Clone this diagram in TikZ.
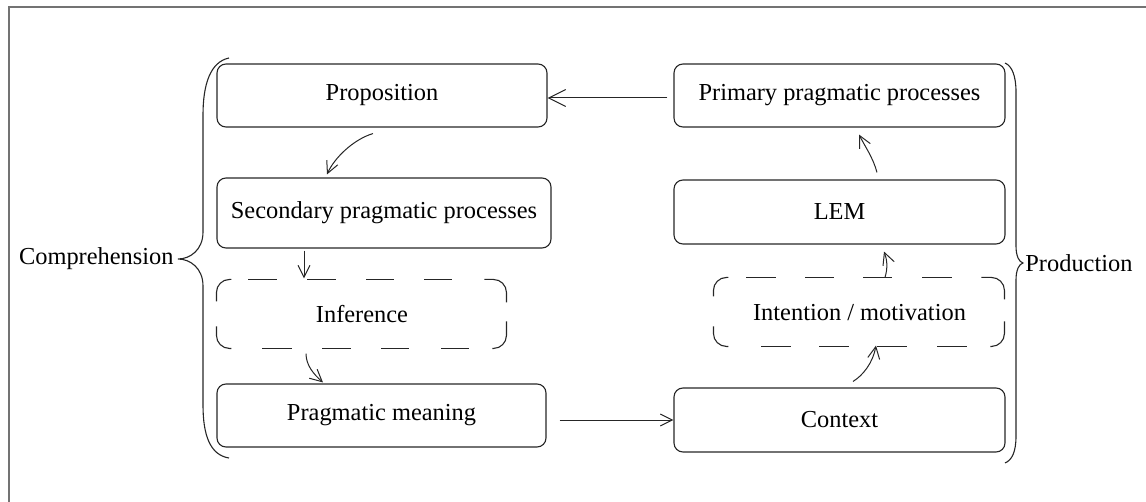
\documentclass[tikz,border=0pt]{standalone}
\usepackage{fontspec}
\setmainfont{Liberation Serif}
\usetikzlibrary{arrows.meta,calc}

\tikzset{
  box/.style={draw=black!85, line width=0.55pt, rounded corners=4.5pt,
    inner sep=0pt, align=center, font=\fontsize{12.2pt}{14pt}\selectfont},
  openbox/.style={box, draw=none},
  outline/.style={draw=black!85, line width=0.55pt, rounded corners=6.5pt},
  arr/.style={draw=black!85, line width=0.5pt,
    -{Straight Barb[length=6pt,width=6pt,line width=0.5pt]}},
  bigarr/.style={draw=black!85, line width=0.5pt,
    -{Straight Barb[length=8.5pt,width=8.5pt,line width=0.5pt]}},
  brace/.style={draw=black!85, line width=0.55pt},
  side/.style={inner sep=0pt, font=\fontsize{12.2pt}{14pt}\selectfont},
}

\begin{document}
\begin{tikzpicture}[x=0.5pt,y=-0.5pt]
  \useasboundingbox (0,0) rectangle (1146,502);

  % outer frame
  \draw[black!55, line width=1pt] (8.5,502) -- (8.5,7) -- (1146,7);

  % comprehension column
  \node[box, minimum width=165pt, minimum height=31.5pt] (prop) at (382,95.5) {Proposition};
  \node[box, minimum width=167pt, minimum height=35pt]   (sec)  at (384,213) {Secondary pragmatic processes};
  \node[openbox, minimum width=145pt, minimum height=34.5pt] (inf) at (362,314.5) {Inference};
  \node[box, minimum width=164.5pt, minimum height=31.5pt] (prag) at (381.5,415.5) {Pragmatic meaning};

  % production column
  \node[box, minimum width=165.5pt, minimum height=31.5pt] (prim) at (839.5,95.5) {Primary pragmatic processes};
  \node[box, minimum width=165.5pt, minimum height=32pt]   (lem)  at (839.5,212) {LEM};
  \node[openbox, minimum width=145.5pt, minimum height=34.5pt] (int) at (859.5,312.5) {Intention / motivation};
  \node[box, minimum width=165.5pt, minimum height=32pt]   (ctx)  at (839.5,420) {Context};

  % broken outline of the Inference box: solid corners, dashed sides
  \begin{scope}[shift={(inf.north west)}]
    \draw[outline] (0,22) -- (0,0) -- (15,0);
    \draw[outline] (268,0) -- (290,0) -- (290,23);
    \draw[outline] (290,42) -- (290,69) -- (276,69);
    \draw[outline] (15,69) -- (0,69) -- (0,47);
    \foreach \a/\b in {32/61, 91/120, 150/178, 208/236}
      \draw[outline] (\a,0) -- (\b,0);
    \foreach \a/\b in {46/76, 106/135, 165/193, 225/253}
      \draw[outline] (\a,69) -- (\b,69);
  \end{scope}

  % broken outline of the Intention / motivation box
  \begin{scope}[shift={(int.north west)}]
    \draw[outline] (0,19) -- (0,0) -- (15,0);
    \draw[outline] (268,0) -- (291,0) -- (291,22);
    \draw[outline] (291,44) -- (291,69) -- (277,69);
    \draw[outline] (15,69) -- (0,69) -- (0,49);
    \foreach \a/\b in {33/63, 92/121, 150/179, 209/239}
      \draw[outline] (\a,0) -- (\b,0);
    \foreach \a/\b in {48/78, 106/136, 164/194, 224/254}
      \draw[outline] (\a,69) -- (\b,69);
  \end{scope}

  % connectors
  \draw[bigarr] ($(prim.west)+(-6,2.5)$) -- ($(prop.east)+(0,2.5)$);
  \draw[arr] ($(prop.south)+(-9,6)$) .. controls +(-20,6) and +(7,-16) .. ($(sec.north)+(-57,-3)$);
  \draw[arr] ($(sec.south)+(-80,2)$) -- ($(inf.north)+(-58,-1)$);
  \draw[arr] ($(inf.south)+(-56,4)$) .. controls +(0,12) and +(-9,-8) .. ($(prag.north)+(-58.5,-1)$);
  \draw[arr] ($(prag.east)+(13,4.5)$) -- (ctx.west);
  \draw[arr] ($(ctx.north)+(13.5,-6)$) .. controls +(10,-6) and +(-3,17) .. ($(int.south)+(16.5,-2)$);
  \draw[arr] ($(int.north)+(25.5,0)$) .. controls +(3,-10) and +(3,8) .. ($(lem.south)+(44.5,7)$);
  \draw[arr] ($(lem.north)+(37.5,-7)$) .. controls +(-4,-15) and +(6,12) .. ($(prim.south)+(19.5,7)$);

  % left brace and label
  \draw[brace] (229,58) .. controls (210,62) and (203,85) .. (203,115)
    -- (203,232) .. controls (203,250) and (190,259) .. (178,259)
    .. controls (190,259) and (203,268) .. (203,286)
    -- (203,405) .. controls (203,435) and (210,455) .. (229,458);
  \node[side, anchor=east] (comp) at (174,259) {Comprehension};

  % right brace and label
  \draw[brace] (1005,63) .. controls (1012,66) and (1016,76) .. (1016,92)
    -- (1016,246) .. controls (1016,256) and (1019,262) .. (1023,263)
    .. controls (1019,264) and (1016,270) .. (1016,280)
    -- (1016,436) .. controls (1016,452) and (1012,460) .. (1005,463);
  \node[side, anchor=west] (prod) at (1025,263) {Production};
\end{tikzpicture}
\end{document}
